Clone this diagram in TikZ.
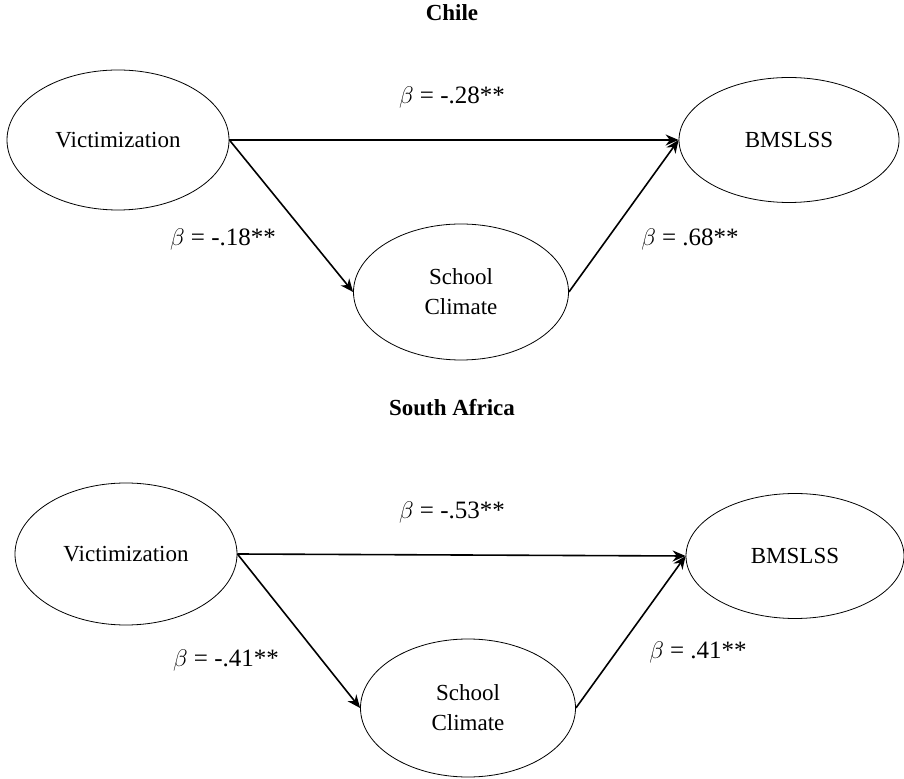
\documentclass[tikz,border=0pt]{standalone}
\usepackage{fontspec}
\setmainfont{Liberation Serif}
\usetikzlibrary{shapes.geometric,arrows.meta}

\begin{document}
\begin{tikzpicture}[x=0.5pt,y=-0.5pt,
  var/.style={draw, ellipse, line width=0.4pt, inner sep=0pt, align=center, font=\fontsize{11.5}{15}\selectfont},
  coef/.style={font=\fontsize{12.5}{15}\selectfont},
  panel/.style={font=\fontsize{11.5}{13.5}\selectfont\bfseries},
  path/.style={->, line width=0.8pt},
  >={Stealth[length=6.5pt,width=5.5pt]}]
\useasboundingbox (0,0) rectangle (904,779);

% Chile
\node[panel] (chile) at (452,13) {Chile};
\node[var, minimum width=111pt, minimum height=70pt] (vicA) at (118,140) {Victimization};
\node[var, minimum width=107.5pt, minimum height=68pt] (climA) at (461,292) {School\\Climate};
\node[var, minimum width=110pt, minimum height=62.5pt] (lifeA) at (789,140) {BMSLSS};

\draw[path] (vicA.east) -- (lifeA.west);
\draw[path] (vicA.east) -- (climA.west);
\draw[path] (climA.east) -- (lifeA.west);

\node[coef] (cA1) at (452,98) {$\beta$ = -.28**};
\node[coef] (cA2) at (223,240) {$\beta$ = -.18**};
\node[coef] (cA3) at (690,240) {$\beta$ = .68**};

% South Africa
\node[panel] (safrica) at (452,408) {South Africa};
\node[var, minimum width=111pt, minimum height=71pt] (vicB) at (126,554) {Victimization};
\node[var, minimum width=107.5pt, minimum height=69pt] (climB) at (468,708) {School\\Climate};
\node[var, minimum width=109pt, minimum height=62.5pt] (lifeB) at (795,556) {BMSLSS};

\draw[path] (vicB.east) -- (lifeB.west);
\draw[path] (vicB.east) -- (climB.west);
\draw[path] (climB.east) -- (lifeB.west);

\node[coef] (cB1) at (452,513) {$\beta$ = -.53**};
\node[coef] (cB2) at (226,660) {$\beta$ = -.41**};
\node[coef] (cB3) at (698,653) {$\beta$ = .41**};
\end{tikzpicture}
\end{document}
